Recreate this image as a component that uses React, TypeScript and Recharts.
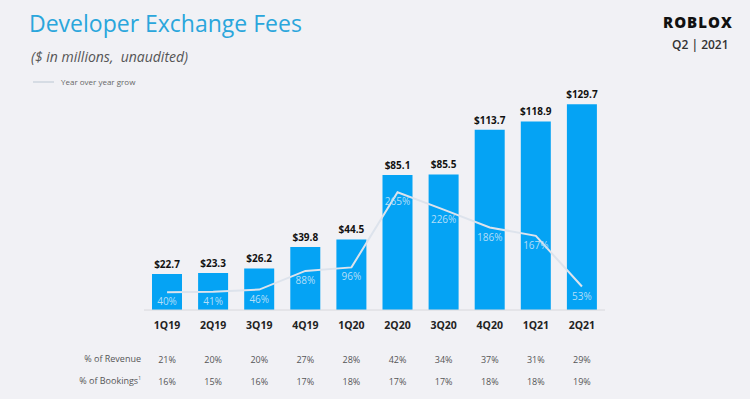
import React from "react";
import {
  ComposedChart,
  Bar,
  Line,
  XAxis,
  YAxis,
  LabelList,
} from "recharts";

const quarters = ["1Q19", "2Q19", "3Q19", "4Q19", "1Q20", "2Q20", "3Q20", "4Q20", "1Q21", "2Q21"];
const fees = [22.7, 23.3, 26.2, 39.8, 44.5, 85.1, 85.5, 113.7, 118.9, 129.7];
const yoyGrowth = [40, 41, 46, 88, 96, 265, 226, 186, 167, 53];
const pctRevenue = ["21%", "20%", "20%", "27%", "28%", "42%", "34%", "37%", "31%", "29%"];
const pctBookings = ["16%", "15%", "16%", "17%", "18%", "17%", "17%", "18%", "18%", "19%"];

const data = quarters.map((q, i) => ({
  name: q,
  fees: fees[i],
  growth: yoyGrowth[i],
  revenue: pctRevenue[i],
  bookings: pctBookings[i],
}));

const FONT = "'Open Sans', 'Noto Sans', sans-serif";
const BLUE = "#05a3f4";

function QuarterTick(props: any) {
  const { x, y, payload, index } = props;
  return (
    <g>
      <text x={x} y={y + 11} textAnchor="middle" fontSize={10.5} fontWeight={700} fill="#222" fontFamily={FONT}>
        {payload.value}
      </text>
      <text x={x} y={y + 45} textAnchor="middle" fontSize={9} fill="#555" fontFamily={FONT}>
        {pctRevenue[index]}
      </text>
      <text x={x} y={y + 67} textAnchor="middle" fontSize={9} fill="#555" fontFamily={FONT}>
        {pctBookings[index]}
      </text>
    </g>
  );
}

export default function App() {
  return (
    <div
      style={{
        position: "fixed",
        left: 0,
        top: 0,
        width: 750,
        height: 399,
        background: "#f1f1f5",
        fontFamily: FONT,
        overflow: "hidden",
      }}
    >
      <div style={{ position: "absolute", left: 29, top: 7, fontSize: 23, color: "#2aa6dc" }}>
        Developer Exchange Fees
      </div>
      <div style={{ position: "absolute", left: 31, top: 47, fontSize: 14, fontStyle: "italic", color: "#555" }}>
        ($ in millions,&nbsp; unaudited)
      </div>
      <div style={{ position: "absolute", left: 33, top: 81, width: 21, height: 2, background: "#d6dce4" }} />
      <div style={{ position: "absolute", left: 61, top: 76, fontSize: 8, color: "#666" }}>
        Year over year grow
      </div>
      <div
        style={{
          position: "absolute",
          left: 663,
          top: 12,
          fontSize: 15,
          fontWeight: 900,
          letterSpacing: 1,
          color: "#111",
        }}
      >
        ROBLOX
      </div>
      <div style={{ position: "absolute", left: 672, top: 36, fontSize: 12, fontWeight: 600, color: "#333" }}>
        Q2 | 2021
      </div>
      <div style={{ position: "absolute", left: 0, top: 352, width: 141, textAlign: "right", fontSize: 9, color: "#555" }}>
        % of Revenue
      </div>
      <div style={{ position: "absolute", left: 0, top: 374, width: 141, textAlign: "right", fontSize: 9, color: "#555" }}>
        % of Bookings<sup style={{ fontSize: 5 }}>1</sup>
      </div>
      <div style={{ position: "absolute", left: 0, top: 0 }}>
        <ComposedChart
          width={750}
          height={399}
          data={data}
          margin={{ top: 88, right: 145, bottom: 59, left: 144 }}
        >
          <XAxis
            dataKey="name"
            height={30}
            axisLine={{ stroke: "#d8d8dc" }}
            tickLine={false}
            tick={<QuarterTick />}
            interval={0}
          />
          <YAxis yAxisId="fees" hide domain={[0, 140]} />
          <YAxis yAxisId="growth" hide orientation="right" domain={[0, 500]} />
          <Bar yAxisId="fees" dataKey="fees" fill={BLUE} barSize={30} isAnimationActive={false}>
            <LabelList
              dataKey="fees"
              position="top"
              offset={6}
              formatter={(v: any) => `$${v}`}
              fill="#111"
              fontSize={10}
              fontWeight={700}
              fontFamily={FONT}
            />
          </Bar>
          <Line
            yAxisId="growth"
            type="linear"
            dataKey="growth"
            stroke="#dde3ec"
            strokeWidth={2}
            dot={false}
            isAnimationActive={false}
          >
            <LabelList
              dataKey="growth"
              position="bottom"
              offset={6}
              formatter={(v: any) => `${v}%`}
              fill="#b3def8"
              fontSize={10}
              fontFamily={FONT}
            />
          </Line>
        </ComposedChart>
      </div>
    </div>
  );
}
